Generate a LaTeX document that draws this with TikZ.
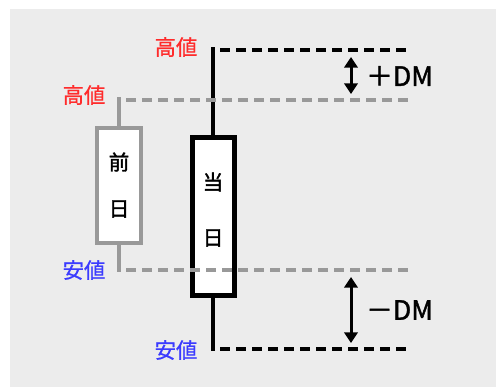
\documentclass[tikz,border=0pt]{standalone}
\usepackage{fontspec}
\setmainfont{Noto Sans CJK JP}
\newfontfamily\medjp{Noto Sans CJK JP}[FakeBold=1.6]
\newfontfamily\lbljp{Noto Sans CJK JP}[FakeBold=0.8]
\usetikzlibrary{arrows.meta}
\definecolor{bg}{HTML}{ECECEC}
\definecolor{gr}{HTML}{999999}
\definecolor{hi}{HTML}{FF2B2B}
\definecolor{lo}{HTML}{3B3BFF}
\tikzset{
  todaybody/.style={draw=black,fill=white,line width=3.75pt,minimum width=31.5pt,minimum height=118.5pt,inner sep=0pt},
  prevbody/.style={draw=gr,fill=white,line width=3pt,minimum width=33pt,minimum height=86.25pt,inner sep=0pt},
  bodytext/.style={font=\medjp\fontsize{15.5}{15.5}\selectfont,inner sep=0pt},
  hilabel/.style={text=hi,font=\lbljp\fontsize{16}{16}\selectfont,inner sep=0pt},
  lolabel/.style={text=lo,font=\lbljp\fontsize{16}{16}\selectfont,inner sep=0pt},
  dmlabel/.style={font=\medjp\fontsize{20}{20}\selectfont,inner sep=0pt,anchor=west},
  blackwick/.style={line width=3.4pt,black},
  graywick/.style={line width=3pt,gr},
  blackdash/.style={line width=3pt,black,dash pattern=on 7.5pt off 4.5pt},
  graydash/.style={line width=3pt,gr,dash pattern=on 7.5pt off 4.5pt},
  dmarrow/.style={line width=2.25pt,{Triangle[width=10pt,length=8pt]}-{Triangle[width=10pt,length=8pt]}}
}
\begin{document}
\begin{tikzpicture}[x=0.75pt,y=-0.75pt]
\useasboundingbox (0,0) rectangle (496,387);
\fill[bg] (10,9) rectangle (496,387);
% coordinates
\coordinate (tH) at (213,47);
\coordinate (tL) at (213,351);
\coordinate (pH) at (119,97);
\coordinate (pL) at (119,272);
\coordinate (thS) at (220,50);
\coordinate (thE) at (406,50);
\coordinate (tlS) at (220,349);
\coordinate (tlE) at (406,349);
\coordinate (phS) at (126,100);
\coordinate (phE) at (408,100);
\coordinate (plS) at (126,270);
\coordinate (plE) at (408,270);
\coordinate (a1) at (351,57);
\coordinate (a2) at (351,94);
\coordinate (b1) at (351,277);
\coordinate (b2) at (351,343);
% previous day candle
\node[prevbody] (pb) at (119,185.5) {};
\draw[graywick] (pH) -- (pb.north);
\draw[graywick] (pb.south) -- (pL);
\node[bodytext] (p1) at (119,162) {前};
\node[bodytext] (p2) at (119,209) {日};
% today candle
\node[todaybody] (tb) at (213,216.5) {};
\draw[blackwick] (tH) -- (tb.north);
\draw[blackwick] (tb.south) -- (tL);
\node[bodytext] (t1) at (213,182) {当};
\node[bodytext] (t2) at (213,238) {日};
% dashed lines
\draw[blackdash] (thS) -- (thE);
\draw[blackdash] (tlS) -- (tlE);
\draw[graydash] (phS) -- (phE);
\draw[graydash] (plS) -- (plE);
% arrows
\draw[dmarrow] (a1) -- (a2);
\draw[dmarrow] (b1) -- (b2);
\node[dmlabel] (pdm) at (366,76) {＋DM};
\node[dmlabel] (mdm) at (366,310) {－DM};
% labels
\node[hilabel] (h1) at (176,47) {高値};
\node[hilabel] (h2) at (84,95) {高値};
\node[lolabel] (l1) at (84,270) {安値};
\node[lolabel] (l2) at (176,350) {安値};
\end{tikzpicture}
\end{document}
